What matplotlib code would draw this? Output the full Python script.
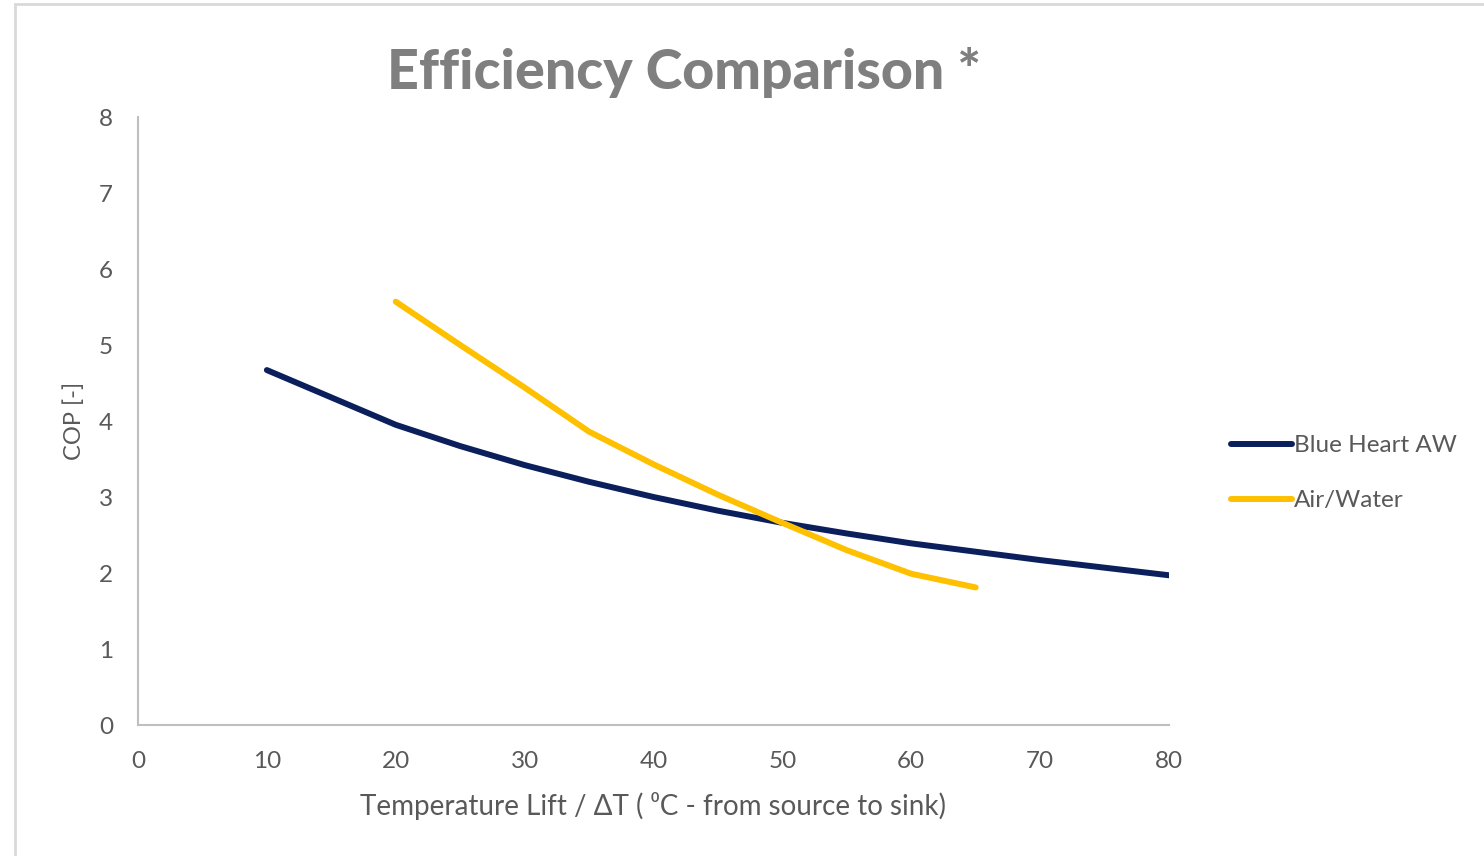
import numpy as np
import matplotlib.pyplot as plt
from matplotlib.patches import Rectangle

# Werte
x_blue = [10, 15, 20, 25, 30, 35, 40, 45, 50, 55, 60, 65, 70, 75, 80]
cop_blue = [4.67, 4.31, 3.95, 3.67, 3.42, 3.20, 3.00, 2.82, 2.66, 2.52, 2.39, 2.28, 2.17, 2.07, 1.97]

x_air = [20, 25, 30, 35, 40, 45, 50, 55, 60, 65]
cop_air = [5.57, 5.00, 4.44, 3.86, 3.43, 3.03, 2.66, 2.30, 1.99, 1.81]

x_ticks = [0, 10, 20, 30, 40, 50, 60, 70, 80]
y_ticks = [0, 1, 2, 3, 4, 5, 6, 7, 8]

plt.rcParams['font.family'] = ['Lato', 'DejaVu Sans']
grey = '#595959'

fig = plt.figure(figsize=(14.84, 8.56), dpi=100)
ax = fig.add_axes([138 / 1484, 1 - 725 / 856, (1169 - 138) / 1484, (725 - 117) / 856])

ax.plot(x_blue, cop_blue, color='#0b1f5c', lw=4.3, solid_capstyle='round', label='Blue Heart AW')
ax.plot(x_air, cop_air, color='#ffc000', lw=4.3, solid_capstyle='round', label='Air/Water')

ax.set_xlim(0, 80)
ax.set_ylim(0, 8)
ax.set_xticks(x_ticks)
ax.set_yticks(y_ticks)
ax.tick_params(length=0, labelsize=17.5, labelcolor=grey)
ax.tick_params(axis='x', pad=19)
ax.tick_params(axis='y', pad=18)
for s in ['top', 'right']:
    ax.spines[s].set_visible(False)
for s in ['left', 'bottom']:
    ax.spines[s].set_color('#bfbfbf')
    ax.spines[s].set_linewidth(1.5)

ax.set_xlabel('Temperature Lift / ΔT ( ⁰C - from source to sink)', fontsize=20, color=grey, labelpad=14)
ax.set_ylabel('COP [-]', fontsize=17, color=grey, labelpad=10)

fig.text(684 / 1484, 1 - 72 / 856, 'Efficiency Comparison *', ha='center', va='center',
         fontsize=40, fontweight='black', color='#7f7f7f')

leg = ax.legend(loc='center left', bbox_to_anchor=(1.039, 0.414), frameon=False,
                fontsize=17.5, handlelength=2.5, handletextpad=0.1, labelspacing=1.4,
                labelcolor=grey)

# Rahmen oben und links
fig.add_artist(Rectangle((15 / 1484, -0.1), 1.2, 1.1 - 4 / 856, transform=fig.transFigure,
                         fill=False, edgecolor='#d9d9d9', lw=2))

fig.savefig('out.png', dpi=100)
